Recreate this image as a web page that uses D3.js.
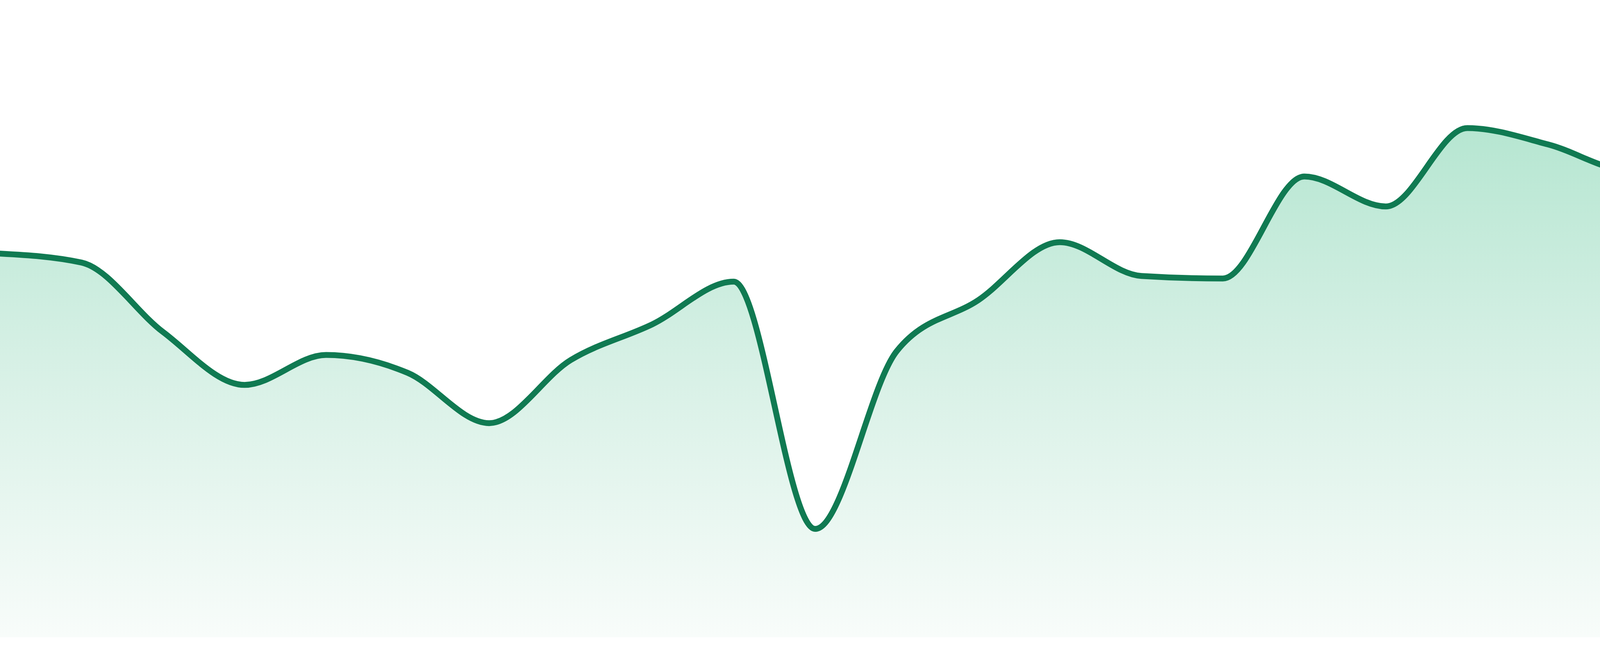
<!DOCTYPE html>
<html>
<head>
<meta charset="utf-8">
<script src="https://cdn.jsdelivr.net/npm/d3@7/dist/d3.min.js"></script>
<style>
  html, body { margin: 0; padding: 0; background: #ffffff; }
  svg { display: block; }
</style>
</head>
<body>
<div id="chart"></div>
<script>
// ---- data ----
const labels = d3.range(1, 25).map(i => "P" + i);
const values = [60.2, 58.8, 47.9, 39.6, 44.3, 41.5, 33.6, 43.5, 49.1, 55.8, 17.0, 44.9,
                52.9, 62.0, 56.7, 56.3, 72.3, 67.6, 79.9, 77.3, 73.2, 79.1, 87.6, 80.5];
const yDomain = [0, 100];

// ---- layout ----
const W = 4800, H = 1680;
const margin = { top: 0, right: 0, bottom: 48, left: 0 };
const innerH = H - margin.top - margin.bottom;

const svg = d3.select("#chart").append("svg")
  .attr("width", W).attr("height", H);

const x = d3.scalePoint().domain(labels).range([margin.left, W - margin.right]);
const y = d3.scaleLinear().domain(yDomain).range([margin.top + innerH, margin.top]);

const data = labels.map((l, i) => ({ label: l, value: values[i] }));

const defs = svg.append("defs");
const grad = defs.append("linearGradient")
  .attr("id", "fillGrad")
  .attr("gradientUnits", "userSpaceOnUse")
  .attr("x1", 0).attr("x2", 0)
  .attr("y1", y(d3.max(values))).attr("y2", y(0));
grad.append("stop").attr("offset", "0%").attr("stop-color", "#afe4cd");
grad.append("stop").attr("offset", "50%").attr("stop-color", "#d6f0e5");
grad.append("stop").attr("offset", "100%").attr("stop-color", "#f8fcfa");

const area = d3.area()
  .x(d => x(d.label))
  .y0(y(0))
  .y1(d => y(d.value))
  .curve(d3.curveMonotoneX);

const line = d3.line()
  .x(d => x(d.label))
  .y(d => y(d.value))
  .curve(d3.curveMonotoneX);

svg.append("path")
  .datum(data)
  .attr("d", area)
  .attr("fill", "url(#fillGrad)");

svg.append("path")
  .datum(data)
  .attr("d", line)
  .attr("fill", "none")
  .attr("stroke", "#107a52")
  .attr("stroke-width", 15)
  .attr("stroke-linejoin", "round")
  .attr("stroke-linecap", "round");
</script>
</body>
</html>
